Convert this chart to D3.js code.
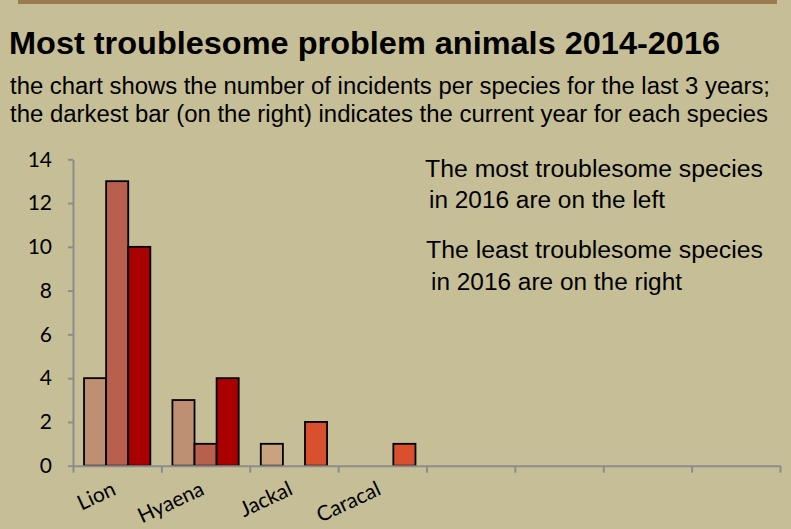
<!DOCTYPE html>
<html>
<head>
<meta charset="utf-8">
<script src="https://cdn.jsdelivr.net/npm/d3@7/dist/d3.min.js"></script>
<style>
  html, body { margin: 0; padding: 0; background: #c5be97; }
  svg { display: block; }
</style>
</head>
<body>
<svg id="chart" width="791" height="529"></svg>
<script>
// Species along the axis (the trailing slots are left unnamed)
const categories = ["Lion", "Hyaena", "Jackal", "Caracal", "", "", "", ""];
const years = ["2014", "2015", "2016"];
const incidents2014 = [4, 3, 1, 0, 0, 0, 0, 0];
const incidents2015 = [13, 1, 0, 0, 0, 0, 0, 0];
const incidents2016 = [10, 4, 2, 1, 0, 0, 0, 0];
const yTicks = [0, 2, 4, 6, 8, 10, 12, 14];

const titleText = "Most troublesome problem animals 2014-2016";
const subtitleLines = [
  "the chart shows the number of incidents per species for the last 3 years;",
  "the darkest bar (on the right) indicates the current year for each species"
];
const noteLines = [
  "The most troublesome species",
  " in 2016 are on the left",
  "The least troublesome species",
  " in 2016 are on the right"
];

// Fill colours per species and year
const palette = {
  Lion:    ["#bf8f71", "#b8604d", "#aa0000"],
  Hyaena:  ["#bf8f71", "#b8604d", "#aa0000"],
  Jackal:  ["#c9a27e", "#c9a27e", "#d8502e"],
  Caracal: ["#d8502e", "#d8502e", "#d8502e"]
};

const series = [incidents2014, incidents2015, incidents2016];
const svg = d3.select("#chart");
const W = 791, H = 529;

svg.append("rect").attr("width", W).attr("height", H).attr("fill", "#c5be97");
svg.append("rect").attr("x", 18).attr("y", 0).attr("width", 759).attr("height", 4).attr("fill", "#9c7b52");

// Headings
svg.append("text")
  .attr("x", 9).attr("y", 54.3)
  .attr("font-family", "'Liberation Sans', Arial, sans-serif")
  .attr("font-weight", "bold").attr("font-size", 30.5)
  .attr("textLength", 711).attr("lengthAdjust", "spacingAndGlyphs")
  .attr("fill", "#000").text(titleText);

const subW = [760, 758];
svg.selectAll("text.sub").data(subtitleLines).join("text")
  .attr("class", "sub")
  .attr("x", 10).attr("y", (d, i) => 93.5 + i * 28.2)
  .attr("font-family", "'Liberation Sans', Arial, sans-serif")
  .attr("font-size", 23)
  .attr("textLength", (d, i) => subW[i]).attr("lengthAdjust", "spacingAndGlyphs")
  .attr("fill", "#000").text(d => d);

// Scales
const x0 = d3.scaleBand().domain(d3.range(categories.length)).range([73, 780]).padding(0);
const bw = x0.bandwidth();
const x1 = d3.scaleBand().domain(d3.range(years.length)).range([bw * 0.125, bw * 0.875]).padding(0);
const y = d3.scaleLinear().domain([0, 14]).range([465.7, 159.3]);

// Bars
const bars = [];
categories.forEach((c, i) => {
  series.forEach((s, k) => {
    if (s[i] > 0) bars.push({ i, k, v: s[i], c });
  });
});

svg.append("g").selectAll("rect").data(bars).join("rect")
  .attr("x", d => x0(d.i) + x1(d.k))
  .attr("y", d => y(d.v))
  .attr("width", x1.bandwidth())
  .attr("height", d => y(0) - y(d.v))
  .attr("fill", d => palette[d.c][d.k])
  .attr("stroke", "#000").attr("stroke-width", 1.8);

// Y axis
const yAxis = svg.append("g").attr("transform", "translate(73,0)")
  .call(d3.axisLeft(y).tickValues(yTicks).tickSize(5).tickSizeOuter(0).tickPadding(16));
yAxis.select(".domain").attr("stroke", "#8c8c8c").attr("stroke-width", 2);
yAxis.selectAll(".tick line").attr("stroke", "#8c8c8c").attr("stroke-width", 2);
yAxis.selectAll(".tick text")
  .attr("font-family", "Lato, 'Open Sans', sans-serif").attr("font-size", 21)
  .attr("fill", "#000");

// X axis: ticks on the slot boundaries
const xEdge = d3.scaleLinear().domain([0, categories.length]).range(x0.range());
const xAxis = svg.append("g").attr("transform", `translate(0,${y(0)})`)
  .call(d3.axisBottom(xEdge).tickValues(d3.range(categories.length + 1)).tickSize(7).tickSizeOuter(0).tickFormat(""));
xAxis.select(".domain").attr("stroke", "#8c8c8c").attr("stroke-width", 2);
xAxis.selectAll(".tick line").attr("stroke", "#8c8c8c").attr("stroke-width", 2);

// Slanted species names
svg.append("g").selectAll("text").data(categories.map((c, i) => ({ c, i })).filter(d => d.c))
  .join("text")
  .attr("transform", d => `translate(${x0(d.i) + bw / 2},494) rotate(-25)`)
  .attr("text-anchor", "end")
  .attr("font-family", "Lato, 'Open Sans', sans-serif").attr("font-size", 21)
  .attr("fill", "#000").text(d => d.c);

// Notes on the right
const notePos = [
  { x: 425, y: 176.7, w: 338 },
  { x: 429, y: 208, w: 236 },
  { x: 426, y: 258, w: 337 },
  { x: 431, y: 290, w: 251 }
];
svg.append("g").selectAll("text").data(noteLines).join("text")
  .attr("x", (d, i) => notePos[i].x).attr("y", (d, i) => notePos[i].y)
  .attr("font-family", "'Liberation Sans', Arial, sans-serif").attr("font-size", 23)
  .attr("textLength", (d, i) => notePos[i].w).attr("lengthAdjust", "spacingAndGlyphs")
  .attr("fill", "#000").text(d => d.trim());
</script>
</body>
</html>
